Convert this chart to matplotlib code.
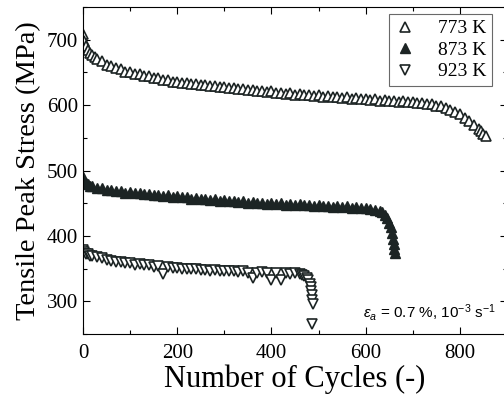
"""Tensile peak stress vs number of cycles at three temperatures."""

import matplotlib

matplotlib.use("Agg")
import matplotlib.pyplot as plt
from matplotlib.ticker import MultipleLocator

plt.rcParams["font.family"] = ["Liberation Serif", "DejaVu Serif"]
plt.rcParams["mathtext.fontset"] = "custom"
plt.rcParams["mathtext.it"] = "Liberation Sans:italic"
plt.rcParams["mathtext.rm"] = "Liberation Sans"

# 773 K
cycles_773 = [0, 3, 6, 10, 15, 20, 25, 30, 40, 50, 60, 70, 80, 90, 100, 110, 120, 130,
              140, 150, 160, 170, 180, 190, 200, 210, 220, 230, 240, 250, 260, 270,
              280, 290, 300, 310, 320, 330, 340, 350, 360, 370, 380, 390, 400, 410,
              420, 430, 440, 450, 460, 470, 480, 490, 500, 510, 520, 530, 540, 550,
              560, 570, 580, 590, 600, 610, 620, 630, 640, 650, 660, 670, 680, 690,
              700, 710, 720, 730, 740, 750, 760, 770, 780, 790, 800, 810, 820, 830,
              840, 845, 850, 855]
stress_773 = [708, 698, 690, 684, 680, 677, 673, 671, 667, 662, 660, 656, 655, 651, 650,
              647, 647, 644, 644, 641, 641, 639, 638, 636, 636, 634, 634, 632, 632, 630,
              631, 629, 629, 627, 628, 626, 626, 624, 625, 623, 623, 621, 622, 620, 621,
              619, 619, 617, 618, 616, 617, 615, 616, 614, 615, 613, 614, 612, 613, 611,
              612, 610, 611, 609, 610, 608, 609, 607, 608, 606, 607, 605, 606, 604, 605,
              603, 603, 601, 601, 599, 598, 595, 593, 589, 586, 581, 576, 570, 564, 560,
              556, 552]

# 873 K
cycles_873 = [0, 3, 6, 10, 15, 20, 30, 40, 50, 60, 70, 80, 90, 100, 110, 120, 130, 140,
              150, 160, 170, 180, 190, 200, 210, 220, 230, 240, 250, 260, 270, 280,
              290, 300, 310, 320, 330, 340, 350, 360, 370, 380, 390, 400, 410, 420,
              430, 440, 450, 460, 470, 480, 490, 500, 510, 520, 530, 540, 550, 560,
              570, 580, 590, 600, 610, 620, 630, 635, 640, 645, 650, 653, 656, 658,
              660, 661, 662]
stress_873 = [490, 484, 481, 479, 477, 476, 474, 473, 470, 470, 468, 468, 466, 467, 465,
              466, 464, 464, 463, 463, 461, 462, 460, 461, 459, 459, 457, 458, 456, 457,
              455, 456, 454, 455, 453, 454, 452, 453, 451, 452, 450, 451, 449, 451, 449,
              450, 448, 449, 447, 449, 447, 448, 446, 447, 445, 446, 444, 446, 444, 445,
              443, 444, 442, 443, 441, 440, 438, 436, 432, 427, 420, 413, 404, 396, 388,
              380, 374]

# 923 K
cycles_923 = [0, 3, 6, 10, 15, 20, 30, 40, 50, 60, 70, 80, 90, 100, 110, 120, 130, 140,
              150, 160, 170, 180, 190, 200, 210, 220, 230, 240, 250, 260, 270, 280,
              290, 300, 310, 320, 330, 340, 350, 360, 370, 380, 390, 400, 410, 420,
              430, 440, 450, 460, 465, 470, 475, 478, 481, 483, 485, 486, 487, 488, 487]
stress_923 = [378, 375, 373, 372, 370, 369, 367, 366, 363, 362, 360, 360, 358, 358, 356,
              357, 355, 355, 353, 354, 341, 352, 351, 351, 350, 350, 349, 349, 348, 348,
              347, 348, 346, 347, 346, 346, 345, 346, 344, 335, 344, 345, 343, 333, 344,
              333, 343, 342, 343, 341, 340, 338, 336, 332, 327, 322, 316, 309, 302, 296,
              265]

temperatures = ["773 K", "873 K", "923 K"]

fig = plt.figure(figsize=(5.04, 4.03), dpi=100)
ax = fig.add_axes([83 / 504, 69 / 403, 424 / 504, 327 / 403])

ink = "#1c2424"
ax.plot(cycles_773, stress_773, linestyle="none", marker="^", markersize=7.5,
        markerfacecolor="white", markeredgecolor=ink, markeredgewidth=1.2,
        label=temperatures[0])
ax.plot(cycles_873, stress_873, linestyle="none", marker="^", markersize=7.5,
        color=ink, label=temperatures[1])
ax.plot(cycles_923, stress_923, linestyle="none", marker="v", markersize=7.5,
        markerfacecolor="white", markeredgecolor=ink, markeredgewidth=1.2,
        label=temperatures[2])

ax.set_xlim(0, 900)
ax.set_ylim(250, 750)
ax.xaxis.set_major_locator(MultipleLocator(200))
ax.xaxis.set_minor_locator(MultipleLocator(100))
ax.yaxis.set_major_locator(MultipleLocator(100))
ax.yaxis.set_minor_locator(MultipleLocator(50))
ax.tick_params(which="both", direction="in", top=True, right=True, labelsize=15, width=0.8)
ax.tick_params(which="major", length=5)
ax.tick_params(which="minor", length=3)
ax.tick_params(axis="x", pad=7)
for s in ax.spines.values():
    s.set_linewidth(0.8)

ax.set_xlabel("Number of Cycles (-)", fontsize=22, labelpad=1)
ax.set_ylabel("Tensile Peak Stress (MPa)", fontsize=20.5, labelpad=4)

leg = ax.legend(loc="upper right", fontsize=14, frameon=True, fancybox=False,
                edgecolor="#444444", borderaxespad=0,
                handletextpad=1.2, borderpad=0.3, labelspacing=0.2, handlelength=1.0)
leg.set_bbox_to_anchor((409 / 424, 1 - 7 / 327), transform=ax.transAxes)
leg.get_frame().set_linewidth(0.8)

ax.text(0.975, 0.035, r"$\varepsilon_a$ = 0.7 %, 10$^{-3}$ s$^{-1}$",
        transform=ax.transAxes, ha="right", va="bottom", fontsize=11,
        family="Liberation Sans")

fig.savefig("out.png", dpi=100)
